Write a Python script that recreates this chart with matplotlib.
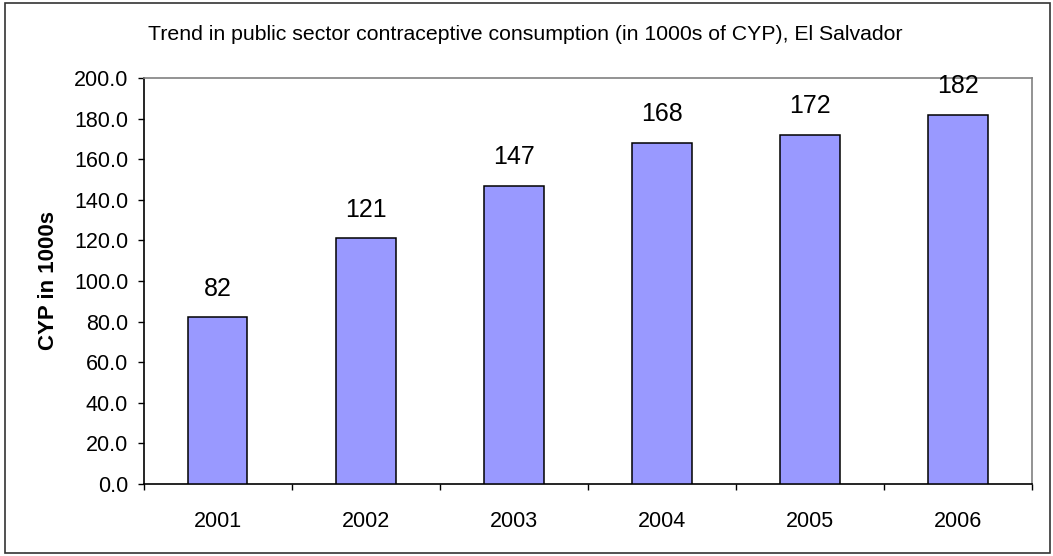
import matplotlib.pyplot as plt
from matplotlib.patches import Rectangle

plt.rcParams['font.family'] = ['Liberation Sans', 'DejaVu Sans']

years = ['2001', '2002', '2003', '2004', '2005', '2006']
cyp = [82, 121, 147, 168, 172, 182]
yticks = [0, 20, 40, 60, 80, 100, 120, 140, 160, 180, 200]

W, H = 1053, 556
fig = plt.figure(figsize=(W / 100, H / 100), dpi=100)
ax = fig.add_axes([143.5 / W, 1 - 483.7 / H, (1031.7 - 143.5) / W, (483.7 - 78.3) / H])

x = list(range(len(years)))
ax.bar(x, cyp, width=0.405, color='#9999FF', edgecolor='black', linewidth=1.1, zorder=3)

for xi, v in zip(x, cyp):
    ax.annotate(f'{v}', (xi, v), xytext=(0, 12), textcoords='offset points',
                ha='center', va='bottom', fontsize=18)

ax.set_xlim(-0.5, len(years) - 0.5)
ax.set_ylim(0, 200)
ax.set_yticks(yticks)
ax.set_yticklabels([f'{t:.1f}' for t in yticks], fontsize=15.5)

# category labels at centres, ticks at the boundaries
ax.set_xticks(x)
ax.set_xticklabels(years, fontsize=15.5)
ax.tick_params(axis='x', length=0, pad=20)
ax.set_xticks([i - 0.5 for i in range(len(years) + 1)], minor=True)
ax.tick_params(axis='x', which='minor', length=4, width=1, direction='out')
ax.tick_params(axis='y', length=4, width=1, direction='out', pad=7)

for side in ('top', 'right'):
    ax.spines[side].set_color('#808080')
for side in ('left', 'bottom'):
    ax.spines[side].set_color('black')
for sp in ax.spines.values():
    sp.set_linewidth(1.2)

ax.set_ylabel('CYP in 1000s', fontsize=16, fontweight='bold', labelpad=11)
fig.text(0.5 * (145 + 905) / W, 1 - 35 / H,
         'Trend in public sector contraceptive consumption (in 1000s of CYP), El Salvador',
         ha='center', va='center', fontsize=15.3)

fig.patches.append(Rectangle((5 / W, 3 / H), (1050 - 5) / W, (553 - 3) / H,
                             transform=fig.transFigure, fill=False,
                             edgecolor='#333333', linewidth=1.2))

fig.savefig('out.png', dpi=100)
